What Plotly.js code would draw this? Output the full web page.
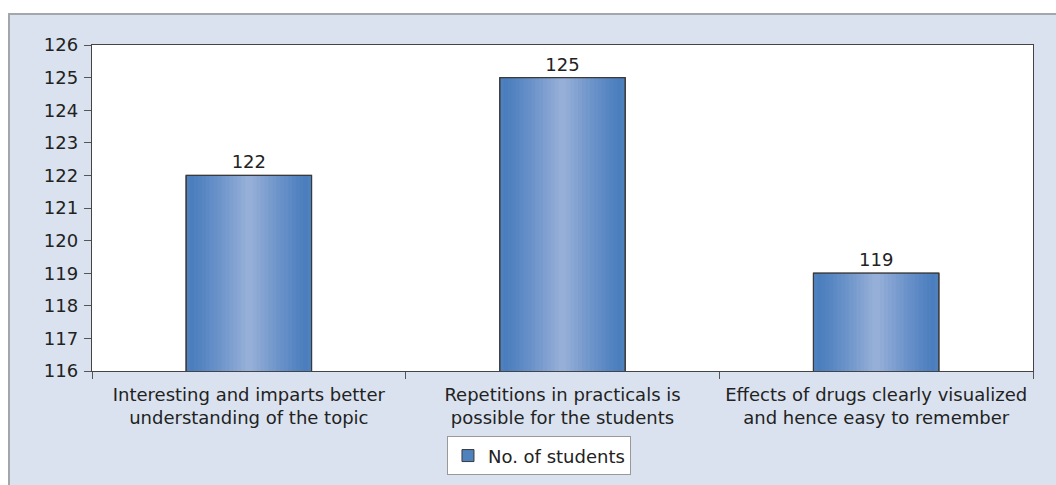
<!DOCTYPE html>
<html>
<head>
<meta charset="utf-8">
<script src="https://cdn.plot.ly/plotly-3.0.1.min.js"></script>
<style>
  html, body { margin: 0; padding: 0; background: #ffffff; width: 1056px; height: 485px; overflow: hidden; }
  #frame { position: absolute; left: 8px; top: 13px; width: 1048px; height: 472px;
           border-left: 2px solid #a3a6ab; border-top: 2px solid #a3a6ab; background: #dae2ef; }
  #chart { width: 1046px; height: 470px; }
</style>
</head>
<body>
<div id="frame"><div id="chart"></div></div>
<script>
const categories = [
  "Interesting and imparts better<br>understanding of the topic",
  "Repetitions in practicals is<br>possible for the students",
  "Effects of drugs clearly visualized<br>and hence easy to remember"
];
const students = [122, 125, 119];
const seriesName = "No. of students";
const yTicks = [116, 117, 118, 119, 120, 121, 122, 123, 124, 125, 126];

const font = "DejaVu Sans, Liberation Sans, Arial, sans-serif";
const fsize = 18;
const barWidth = 0.4;
const edge = [72, 124, 189];
const center = [150, 175, 216];
const layers = 16;

const traces = [];
for (let k = 0; k < layers; k++) {
  const t = k / (layers - 1);
  const c = edge.map((e, i) => Math.round(e + (center[i] - e) * Math.pow(t, 1.2)));
  traces.push({
    type: "bar",
    x: categories,
    y: students,
    name: seriesName,
    width: barWidth * (1 - k / layers),
    marker: { color: k === 0 ? "rgb(79,129,189)" : `rgb(${c[0]},${c[1]},${c[2]})`,
              line: { width: k === 0 ? 1 : 0, color: "#3a3a3a" } },
    showlegend: k === 0,
    hoverinfo: "skip"
  });
}
traces.push({
  type: "bar",
  x: categories,
  y: students,
  name: seriesName,
  width: barWidth,
  marker: { color: "rgba(0,0,0,0)", line: { width: 1.2, color: "#3a3a3a" } },
  text: students.map(String),
  textposition: "outside",
  textfont: { family: font, size: fsize, color: "#222" },
  cliponaxis: false,
  showlegend: false
});

const layout = {
  width: 1046, height: 470,
  margin: { l: 82, r: 23, t: 30, b: 114 },
  paper_bgcolor: "#dae2ef",
  plot_bgcolor: "#ffffff",
  barmode: "overlay",
  font: { family: font, size: fsize, color: "#222" },
  xaxis: {
    type: "category",
    showline: true, linecolor: "#444", linewidth: 1.3, mirror: true,
    ticks: "outside", tickson: "boundaries", ticklen: 7, tickcolor: "#555",
    ticklabelstandoff: 7,
    showgrid: false, zeroline: false, automargin: false,
    tickfont: { family: font, size: fsize, color: "#222" }
  },
  yaxis: {
    range: [116, 126], tickvals: yTicks, ticktext: yTicks.map(String),
    showline: true, linecolor: "#444", linewidth: 1.3, mirror: true,
    ticks: "outside", ticklen: 7, tickcolor: "#555",
    ticklabelstandoff: 2,
    showgrid: false, zeroline: false, automargin: false,
    tickfont: { family: font, size: fsize, color: "#222" }
  },
  showlegend: true,
  legend: {
    x: 0.475, xanchor: "center", yref: "container", y: 0.062, yanchor: "middle",
    orientation: "h", bgcolor: "#ffffff", bordercolor: "#999", borderwidth: 1,
    font: { family: font, size: fsize, color: "#222" }
  }
};

Plotly.newPlot("chart", traces, layout, { displayModeBar: false, staticPlot: true });
</script>
</body>
</html>
